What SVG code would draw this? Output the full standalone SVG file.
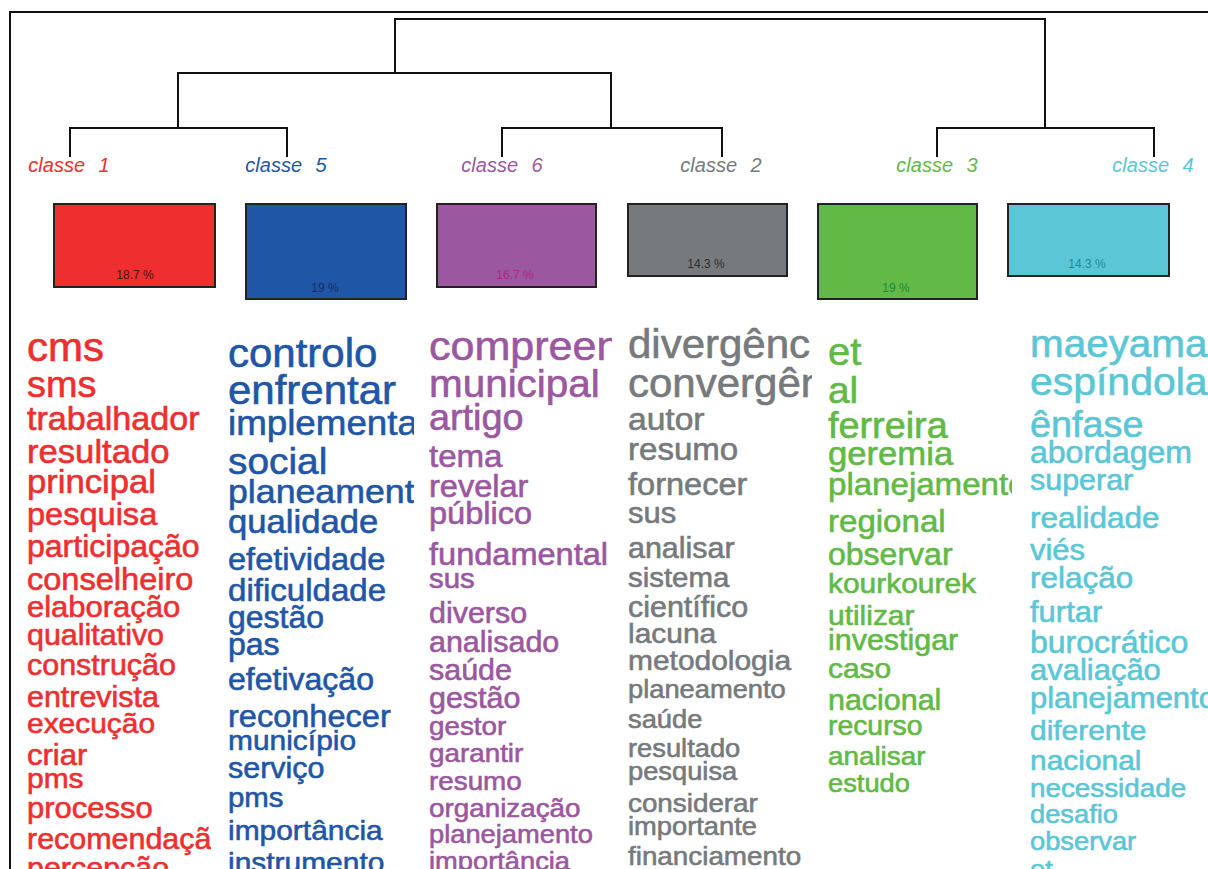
<svg xmlns="http://www.w3.org/2000/svg" width="1208" height="869" viewBox="0 0 1208 869">
<style>
.lbl{font-family:"Liberation Sans",Arial,sans-serif;font-style:italic;font-size:20px;text-anchor:middle;word-spacing:8px}
.pct{font-family:"Liberation Sans",Arial,sans-serif;font-size:12px;text-anchor:middle}
.box{stroke:#222;stroke-width:2}
.w{font-family:"Liberation Sans",Arial,sans-serif;stroke-width:0.6}
.ln{stroke:#111;stroke-width:2;fill:none}
.c1{fill:#EE2E2F}.c5{fill:#1F56A6}.c6{fill:#9B57A0}.c2{fill:#767A7C}.c3{fill:#62B946}.c4{fill:#5BC6D6}
</style>
<defs>
<clipPath id="k1"><rect x="0" y="300" width="211" height="569"/></clipPath>
<clipPath id="k5"><rect x="215" y="300" width="199" height="569"/></clipPath>
<clipPath id="k6"><rect x="415" y="300" width="197" height="569"/></clipPath>
<clipPath id="k2"><rect x="613" y="300" width="199" height="569"/></clipPath>
<clipPath id="k3"><rect x="813" y="300" width="199" height="569"/></clipPath>
<clipPath id="k4"><rect x="1013" y="300" width="195" height="569"/></clipPath>
</defs>
<rect width="1208" height="869" fill="#fff"/>
<path class="ln" d="M10,869 V12 H1208"/>
<g id="connectors">
<path class="ln" d="M395,73 V19 H1045 V128"/>
<path class="ln" d="M70,157 V128 H287 V157 M178,128 V73 H611 V128 M502,157 V128 H722 V157 M937,157 V128 H1154 V157"/>
</g>
<g id="classe1">
<text class="lbl c1" x="69" y="172">classe 1</text>
<rect class="box c1" x="54" y="204" width="161" height="83"/>
<text class="pct" x="135" y="279" fill="#4a1414">18.7 %</text>
<g clip-path="url(#k1)"><g class="w c1" stroke="#EE2E2F" transform="translate(27 0) scale(1.05 1)">
<text y="361" font-size="40">cms</text>
<text y="397" font-size="36">sms</text>
<text y="430" font-size="32.5">trabalhador</text>
<text y="463" font-size="33">resultado</text>
<text y="493" font-size="33">principal</text>
<text y="525" font-size="31">pesquisa</text>
<text y="557" font-size="30.5">participação</text>
<text y="590" font-size="31">conselheiro</text>
<text y="617" font-size="29.5">elaboração</text>
<text y="645" font-size="29">qualitativo</text>
<text y="675" font-size="29">construção</text>
<text y="707" font-size="29">entrevista</text>
<text y="733" font-size="28.5">execução</text>
<text y="765" font-size="29.5">criar</text>
<text y="788" font-size="28.5">pms</text>
<text y="818" font-size="29.5">processo</text>
<text y="849" font-size="29">recomendação</text>
<text y="878" font-size="29">percepção</text>
</g></g>
</g>
<g id="classe5">
<text class="lbl c5" x="286" y="172">classe 5</text>
<rect class="box c5" x="246" y="204" width="160" height="95"/>
<text class="pct" x="325" y="292" fill="#1c2d66">19 %</text>
<g clip-path="url(#k5)"><g class="w c5" stroke="#1F56A6" transform="translate(228 0) scale(1.05 1)">
<text y="367" font-size="40">controlo</text>
<text y="404" font-size="40">enfrentar</text>
<text y="435" font-size="35">implementação</text>
<text y="474" font-size="37">social</text>
<text y="503" font-size="34">planeamento</text>
<text y="533" font-size="33">qualidade</text>
<text y="570" font-size="31">efetividade</text>
<text y="601" font-size="31.5">dificuldade</text>
<text y="628" font-size="30.5">gestão</text>
<text y="655" font-size="30.5">pas</text>
<text y="690" font-size="30.5">efetivação</text>
<text y="727" font-size="31">reconhecer</text>
<text y="750" font-size="28.5">município</text>
<text y="778" font-size="29">serviço</text>
<text y="807" font-size="28">pms</text>
<text y="840" font-size="28.5">importância</text>
<text y="872" font-size="28.5">instrumento</text>
</g></g>
</g>
<g id="classe6">
<text class="lbl c6" x="502" y="172">classe 6</text>
<rect class="box c6" x="437" y="204" width="159" height="83"/>
<text class="pct" x="515" y="279" fill="#b0268c">16.7 %</text>
<g clip-path="url(#k6)"><g class="w c6" stroke="#9B57A0" transform="translate(429 0) scale(1.05 1)">
<text y="360" font-size="41">compreender</text>
<text y="397" font-size="38.5">municipal</text>
<text y="430" font-size="36">artigo</text>
<text y="467" font-size="31.5">tema</text>
<text y="497" font-size="31">revelar</text>
<text y="524" font-size="31">público</text>
<text y="565" font-size="31">fundamental</text>
<text y="588" font-size="28">sus</text>
<text y="623" font-size="29">diverso</text>
<text y="652" font-size="29">analisado</text>
<text y="680" font-size="29">saúde</text>
<text y="708" font-size="29">gestão</text>
<text y="735" font-size="26.5">gestor</text>
<text y="762" font-size="26.5">garantir</text>
<text y="790" font-size="26.5">resumo</text>
<text y="817" font-size="26.5">organização</text>
<text y="843" font-size="26">planejamento</text>
<text y="870" font-size="26">importância</text>
</g></g>
</g>
<g id="classe2">
<text class="lbl c2" x="721" y="172">classe 2</text>
<rect class="box c2" x="628" y="204" width="159" height="72"/>
<text class="pct" x="706" y="268" fill="#2e2e2e">14.3 %</text>
<g clip-path="url(#k2)"><g class="w c2" stroke="#767A7C" transform="translate(628 0) scale(1.05 1)">
<text y="358" font-size="40">divergência</text>
<text y="397" font-size="40">convergência</text>
<text y="430" font-size="32">autor</text>
<text y="460" font-size="31.5">resumo</text>
<text y="495" font-size="31">fornecer</text>
<text y="523" font-size="29.5">sus</text>
<text y="558" font-size="29">analisar</text>
<text y="587" font-size="28">sistema</text>
<text y="617" font-size="29">científico</text>
<text y="643" font-size="28.5">lacuna</text>
<text y="670" font-size="28.5">metodologia</text>
<text y="698" font-size="26">planeamento</text>
<text y="728" font-size="26">saúde</text>
<text y="757" font-size="26">resultado</text>
<text y="780" font-size="26">pesquisa</text>
<text y="812" font-size="26.5">considerar</text>
<text y="835" font-size="26">importante</text>
<text y="865" font-size="26.5">financiamento</text>
</g></g>
</g>
<g id="classe3">
<text class="lbl c3" x="937" y="172">classe 3</text>
<rect class="box c3" x="818" y="204" width="159" height="95"/>
<text class="pct" x="896" y="292" fill="#1b8a3c">19 %</text>
<g clip-path="url(#k3)"><g class="w c3" stroke="#62B946" transform="translate(828 0) scale(1.05 1)">
<text y="365" font-size="38">et</text>
<text y="403" font-size="37">al</text>
<text y="438" font-size="36">ferreira</text>
<text y="465" font-size="33">geremia</text>
<text y="495" font-size="31.5">planejamento</text>
<text y="532" font-size="31.5">regional</text>
<text y="565" font-size="30.5">observar</text>
<text y="593" font-size="28.5">kourkourek</text>
<text y="625" font-size="28.5">utilizar</text>
<text y="650" font-size="29">investigar</text>
<text y="678" font-size="28.5">caso</text>
<text y="710" font-size="29">nacional</text>
<text y="735" font-size="27">recurso</text>
<text y="765" font-size="26.5">analisar</text>
<text y="792" font-size="26">estudo</text>
</g></g>
</g>
<g id="classe4">
<text class="lbl c4" x="1153" y="172">classe 4</text>
<rect class="box c4" x="1008" y="204" width="161" height="72"/>
<text class="pct" x="1087" y="268" fill="#1a8f9a">14.3 %</text>
<g clip-path="url(#k4)"><g class="w c4" stroke="#5BC6D6" transform="translate(1030 0) scale(1.05 1)">
<text y="357" font-size="38.5">maeyama</text>
<text y="395" font-size="39">espíndola</text>
<text y="437" font-size="36">ênfase</text>
<text y="463" font-size="30.5">abordagem</text>
<text y="490" font-size="29">superar</text>
<text y="528" font-size="30">realidade</text>
<text y="560" font-size="29.5">viés</text>
<text y="588" font-size="30">relação</text>
<text y="622" font-size="29.5">furtar</text>
<text y="653" font-size="30.5">burocrático</text>
<text y="680" font-size="29.5">avaliação</text>
<text y="708" font-size="29.5">planejamento</text>
<text y="740" font-size="28.5">diferente</text>
<text y="770" font-size="28.5">nacional</text>
<text y="797" font-size="26.5">necessidade</text>
<text y="823" font-size="26">desafio</text>
<text y="850" font-size="26">observar</text>
<text y="878" font-size="26">et</text>
</g></g>
</g>
</svg>
